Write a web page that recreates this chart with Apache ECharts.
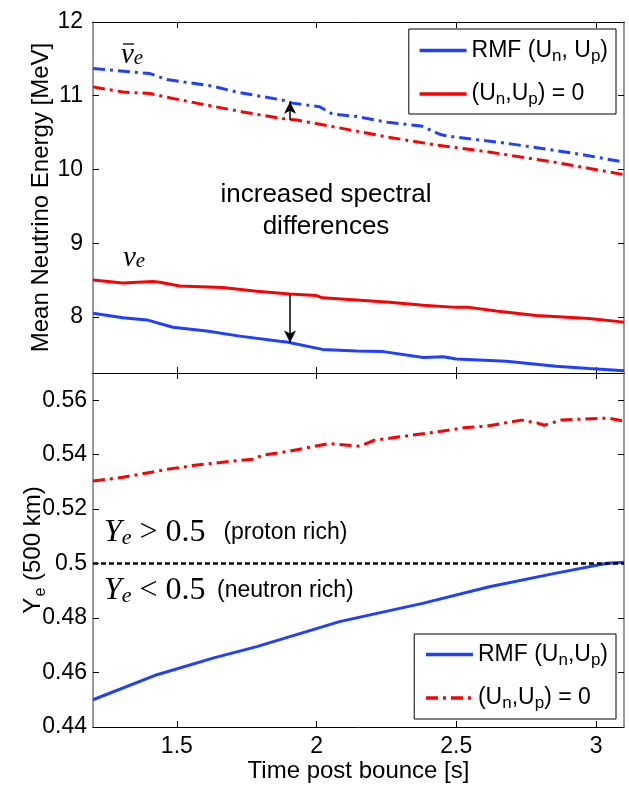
<!DOCTYPE html>
<html><head><meta charset="utf-8">
<script src="https://cdn.jsdelivr.net/npm/echarts@6/dist/echarts.min.js"></script>
<style>html,body{margin:0;padding:0;background:#fff}#c{width:629px;height:786px}</style>
</head><body><div id="c"></div>
<script>
// ---- data ----
const xTicks = [1.5, 2, 2.5, 3];
const energyTicks = [8, 9, 10, 11, 12];
const yeTicks = [0.44, 0.46, 0.48, 0.5, 0.52, 0.54, 0.56];

// anti-electron neutrino mean energy
const nubarT_rmf = [1.2, 1.404, 1.464, 1.629, 1.714, 1.879, 1.914, 2.011, 2.057, 2.143, 2.254, 2.375, 2.446, 2.493, 2.671, 2.85, 2.968, 3.1];
const nubarE_rmf = [11.37, 11.30, 11.22, 11.13, 11.05, 10.94, 10.90, 10.85, 10.75, 10.72, 10.64, 10.59, 10.47, 10.44, 10.36, 10.26, 10.19, 10.10];
const nubarT_zero = [1.2, 1.307, 1.404, 1.464, 1.571, 1.736, 1.879, 1.929, 2.046, 2.143, 2.254, 2.432, 2.611, 2.85, 2.968, 3.1];
const nubarE_zero = [11.12, 11.05, 11.03, 10.98, 10.90, 10.78, 10.69, 10.67, 10.59, 10.52, 10.44, 10.33, 10.24, 10.10, 10.02, 9.93];

// electron neutrino mean energy
const nuT_zero = [1.2, 1.307, 1.414, 1.439, 1.511, 1.664, 1.786, 1.904, 2.0, 2.021, 2.143, 2.261, 2.382, 2.5, 2.546, 2.643, 2.786, 2.975, 3.1];
const nuE_zero = [8.50, 8.46, 8.48, 8.47, 8.42, 8.40, 8.35, 8.31, 8.29, 8.26, 8.23, 8.20, 8.16, 8.13, 8.13, 8.08, 8.02, 7.98, 7.93];
const nuT_rmf = [1.2, 1.307, 1.393, 1.486, 1.607, 1.725, 1.868, 1.893, 2.021, 2.143, 2.239, 2.382, 2.454, 2.5, 2.679, 2.857, 2.975, 3.1];
const nuE_rmf = [8.05, 7.99, 7.96, 7.86, 7.81, 7.74, 7.67, 7.66, 7.56, 7.54, 7.53, 7.45, 7.46, 7.43, 7.40, 7.33, 7.30, 7.27];

// electron fraction at 500 km
const yeT_zero = [1.2, 1.307, 1.464, 1.571, 1.725, 1.771, 1.807, 1.904, 2.046, 2.154, 2.207, 2.279, 2.432, 2.536, 2.611, 2.732, 2.789, 2.814, 2.875, 3.004, 3.046, 3.1];
const ye_zero = [0.5303, 0.5317, 0.5346, 0.5362, 0.5379, 0.5383, 0.5398, 0.5413, 0.5441, 0.5431, 0.5453, 0.5463, 0.5484, 0.5500, 0.5505, 0.5527, 0.5517, 0.5508, 0.5527, 0.5533, 0.5534, 0.5523];
const yeT_rmf = [1.2, 1.429, 1.629, 1.786, 2.082, 2.379, 2.618, 2.857, 3.04, 3.1];
const ye_rmf = [0.4500, 0.4592, 0.4653, 0.4695, 0.4787, 0.4854, 0.4915, 0.4965, 0.5001, 0.5005];

const arrowUp = [[1.905, 10.67], [1.905, 10.92]];
const arrowDown = [[1.905, 8.30], [1.905, 7.655]];
const yeBoundary = 0.5;

// ---- style ----
const SANS = 'Liberation Sans';
const SERIF = 'Liberation Serif';
const BLUE = '#2040ff';
const RED = '#ff0000';
const DASHDOT = [12, 5, 3, 5];
const zip = (a, b) => a.map((v, i) => [v, b[i]]);

const legendLabels = {
  'RMF (Un, Up)': '{a|RMF (U}{s|n}{a|, U}{s|p}{a|)}',
  '(Un,Up) = 0': '{a|(U}{s|n}{a|,U}{s|p}{a|) = 0}',
  'Ye RMF': '{a|RMF (U}{s|n}{a|,U}{s|p}{a|)}',
  'Ye zero': '{a|(U}{s|n}{a|,U}{s|p}{a|) = 0}'
};
const legendRich = {
  a: { fontFamily: SANS, fontSize: 23, lineHeight: 28, color: '#000' },
  s: { fontFamily: SANS, fontSize: 17, lineHeight: 15, verticalAlign: 'bottom', color: '#000' }
};

function xAx(grid, pos, labels, extra) {
  return Object.assign({
    type: 'value', gridIndex: grid, position: pos, min: 1.2, max: 3.1,
    axisLine: { show: true, onZero: false, lineStyle: { color: '#000', width: 1 } },
    axisTick: { show: true, inside: true, length: 6, customValues: xTicks, lineStyle: { color: '#000' } },
    axisLabel: labels ? { show: true, customValues: xTicks, fontFamily: SANS, fontSize: 23, color: '#000', margin: 8 } : { show: false },
    splitLine: { show: false }
  }, extra || {});
}
function yAx(grid, pos, min, max, ticks, labels, margin, extra) {
  return Object.assign({
    type: 'value', gridIndex: grid, position: pos, min: min, max: max,
    axisLine: { show: true, onZero: false, lineStyle: { color: '#777', width: 1.5 } },
    axisTick: { show: true, inside: true, length: 6, customValues: ticks, lineStyle: { color: '#000' } },
    axisLabel: labels ? { show: true, customValues: ticks, fontFamily: SANS, fontSize: 23, color: '#000', margin: margin } : { show: false },
    splitLine: { show: false }
  }, extra || {});
}
const legendBase = {
  orient: 'vertical', right: 13, itemWidth: 47, itemHeight: 14,
  borderColor: '#000', borderWidth: 1, backgroundColor: '#fff',
  itemStyle: { color: 'rgba(0,0,0,0)', borderColor: 'rgba(0,0,0,0)', borderWidth: 0 },
  lineStyle: { width: 3.5 },
  formatter: n => legendLabels[n], textStyle: { rich: legendRich }, selectedMode: false
};
const nuRich = {
  n: { fontFamily: SERIF, fontStyle: 'italic', fontSize: 29, lineHeight: 28, fill: '#000' },
  e: { fontFamily: SERIF, fontStyle: 'italic', fontSize: 21, lineHeight: 18, verticalAlign: 'bottom', fill: '#000' }
};
const yeRich = {
  m: { fontFamily: SERIF, fontStyle: 'italic', fontSize: 32, lineHeight: 32, fill: '#000' },
  ms: { fontFamily: SERIF, fontStyle: 'italic', fontSize: 22, lineHeight: 17, verticalAlign: 'bottom', fill: '#000' },
  r: { fontFamily: SERIF, fontSize: 32, lineHeight: 32, fill: '#000' },
  t: { fontFamily: SANS, fontSize: 23, lineHeight: 32, fill: '#000' },
  t2: { fontFamily: SANS, fontSize: 23, lineHeight: 32, fill: '#000', padding: [0, 0, 0, 5] }
};

const chart = echarts.init(document.getElementById('c'), null, { renderer: 'canvas' });
const option = {
  animation: false,
  backgroundColor: '#fff',
  grid: [
    { left: 93, right: 5, top: 22, height: 351 },
    { left: 93, right: 5, top: 373, height: 354 }
  ],
  xAxis: [
    xAx(0, 'bottom', false),
    xAx(0, 'top', false),
    xAx(1, 'bottom', true, {
      name: 'Time post bounce [s]', nameLocation: 'middle', nameGap: 32, nameMoveOverlap: false,
      nameTextStyle: { fontFamily: SANS, fontSize: 24, color: '#000' }
    }),
    xAx(1, 'top', false)
  ],
  yAxis: [
    yAx(0, 'left', 7.24, 12, energyTicks, true, 10, {
      name: 'Mean Neutrino Energy [MeV]', nameLocation: 'middle', nameGap: 40, nameMoveOverlap: false,
      nameTextStyle: { fontFamily: SANS, fontSize: 24, color: '#000' }
    }),
    yAx(0, 'right', 7.24, 12, energyTicks, false, 0),
    yAx(1, 'left', 0.44, 0.57, yeTicks, true, 6, {
      name: '{a|Y}{s|e}{a| (500 km)}', nameLocation: 'middle', nameGap: 44, nameMoveOverlap: false,
      nameTextStyle: { fontFamily: SANS, fontSize: 24, color: '#000',
        rich: { a: { fontFamily: SANS, fontSize: 24, lineHeight: 28, verticalAlign: 'top', color: '#000' },
                s: { fontFamily: SANS, fontSize: 16, lineHeight: 18, padding: [20, 0, 0, 1], verticalAlign: 'bottom', color: '#000' } } }
    }),
    yAx(1, 'right', 0.44, 0.57, yeTicks, false, 0)
  ],
  legend: [
    Object.assign({}, legendBase, { data: ['RMF (Un, Up)', '(Un,Up) = 0'], top: 29, padding: [10, 8, 6, 9], itemGap: 18 }),
    Object.assign({}, legendBase, { data: ['Ye RMF', 'Ye zero'], top: 634, padding: [9, 8, 7, 10], itemGap: 18 })
  ],
  series: [
    { name: 'RMF (Un, Up)', type: 'line', xAxisIndex: 0, yAxisIndex: 0, data: zip(nuT_rmf, nuE_rmf),
      showSymbol: false, symbol: 'none', lineStyle: { color: BLUE, width: 3 }, itemStyle: { color: BLUE },
      markLine: { silent: true, symbol: ['none', 'arrow'], symbolSize: [9, 12], label: { show: false },
        lineStyle: { color: '#000', width: 1.5, type: 'solid' },
        data: [[{ coord: arrowDown[0] }, { coord: arrowDown[1] }]] } },
    { name: '(Un,Up) = 0', type: 'line', xAxisIndex: 0, yAxisIndex: 0, data: zip(nuT_zero, nuE_zero),
      showSymbol: false, symbol: 'none', lineStyle: { color: RED, width: 3 }, itemStyle: { color: RED } },
    { name: 'nubar RMF', type: 'line', xAxisIndex: 0, yAxisIndex: 0, data: zip(nubarT_rmf, nubarE_rmf),
      showSymbol: false, symbol: 'none', lineStyle: { color: BLUE, width: 3, type: DASHDOT }, itemStyle: { color: BLUE } },
    { name: 'nubar zero', type: 'line', xAxisIndex: 0, yAxisIndex: 0, data: zip(nubarT_zero, nubarE_zero),
      showSymbol: false, symbol: 'none', lineStyle: { color: RED, width: 3, type: DASHDOT }, itemStyle: { color: RED },
      markLine: { silent: true, symbol: ['none', 'arrow'], symbolSize: [9, 12], label: { show: false },
        lineStyle: { color: '#000', width: 1.5, type: 'solid' },
        data: [[{ coord: arrowUp[0] }, { coord: arrowUp[1] }]] } },
    { name: 'Ye RMF', type: 'line', xAxisIndex: 2, yAxisIndex: 2, data: zip(yeT_rmf, ye_rmf),
      showSymbol: false, symbol: 'none', lineStyle: { color: BLUE, width: 3 }, itemStyle: { color: BLUE },
      markLine: { silent: true, symbol: ['none', 'none'], label: { show: false },
        lineStyle: { color: '#000', width: 2.5, type: [5, 3] },
        data: [{ yAxis: yeBoundary }] } },
    { name: 'Ye zero', type: 'line', xAxisIndex: 2, yAxisIndex: 2, data: zip(yeT_zero, ye_zero),
      showSymbol: false, symbol: 'none', lineStyle: { color: RED, width: 3, type: DASHDOT }, itemStyle: { color: RED } }
  ],
  graphic: [
    { type: 'text', x: 121, y: 55, style: { text: '{n|ν}{e|e}', textVerticalAlign: 'middle', rich: nuRich } },
    { type: 'line', shape: { x1: 123, y1: 44, x2: 134, y2: 44 }, style: { stroke: '#000', lineWidth: 1.3 } },
    { type: 'text', x: 123, y: 258, style: { text: '{n|ν}{e|e}', textVerticalAlign: 'middle', rich: nuRich } },
    { type: 'text', x: 326, y: 211, style: {
        text: 'increased spectral\ndifferences', textAlign: 'center', textVerticalAlign: 'middle',
        font: '26px "Liberation Sans"', lineHeight: 32, fill: '#000' } },
    { type: 'text', x: 104, y: 533, style: { text: '{m|Y}{ms|e}{r| > 0.5}{t2|  (proton rich)}', textVerticalAlign: 'middle', rich: yeRich } },
    { type: 'text', x: 104, y: 591, style: { text: '{m|Y}{ms|e}{r| < 0.5}{t2| (neutron rich)}', textVerticalAlign: 'middle', rich: yeRich } }
  ]
};
chart.setOption(option);
</script>
</body></html>
